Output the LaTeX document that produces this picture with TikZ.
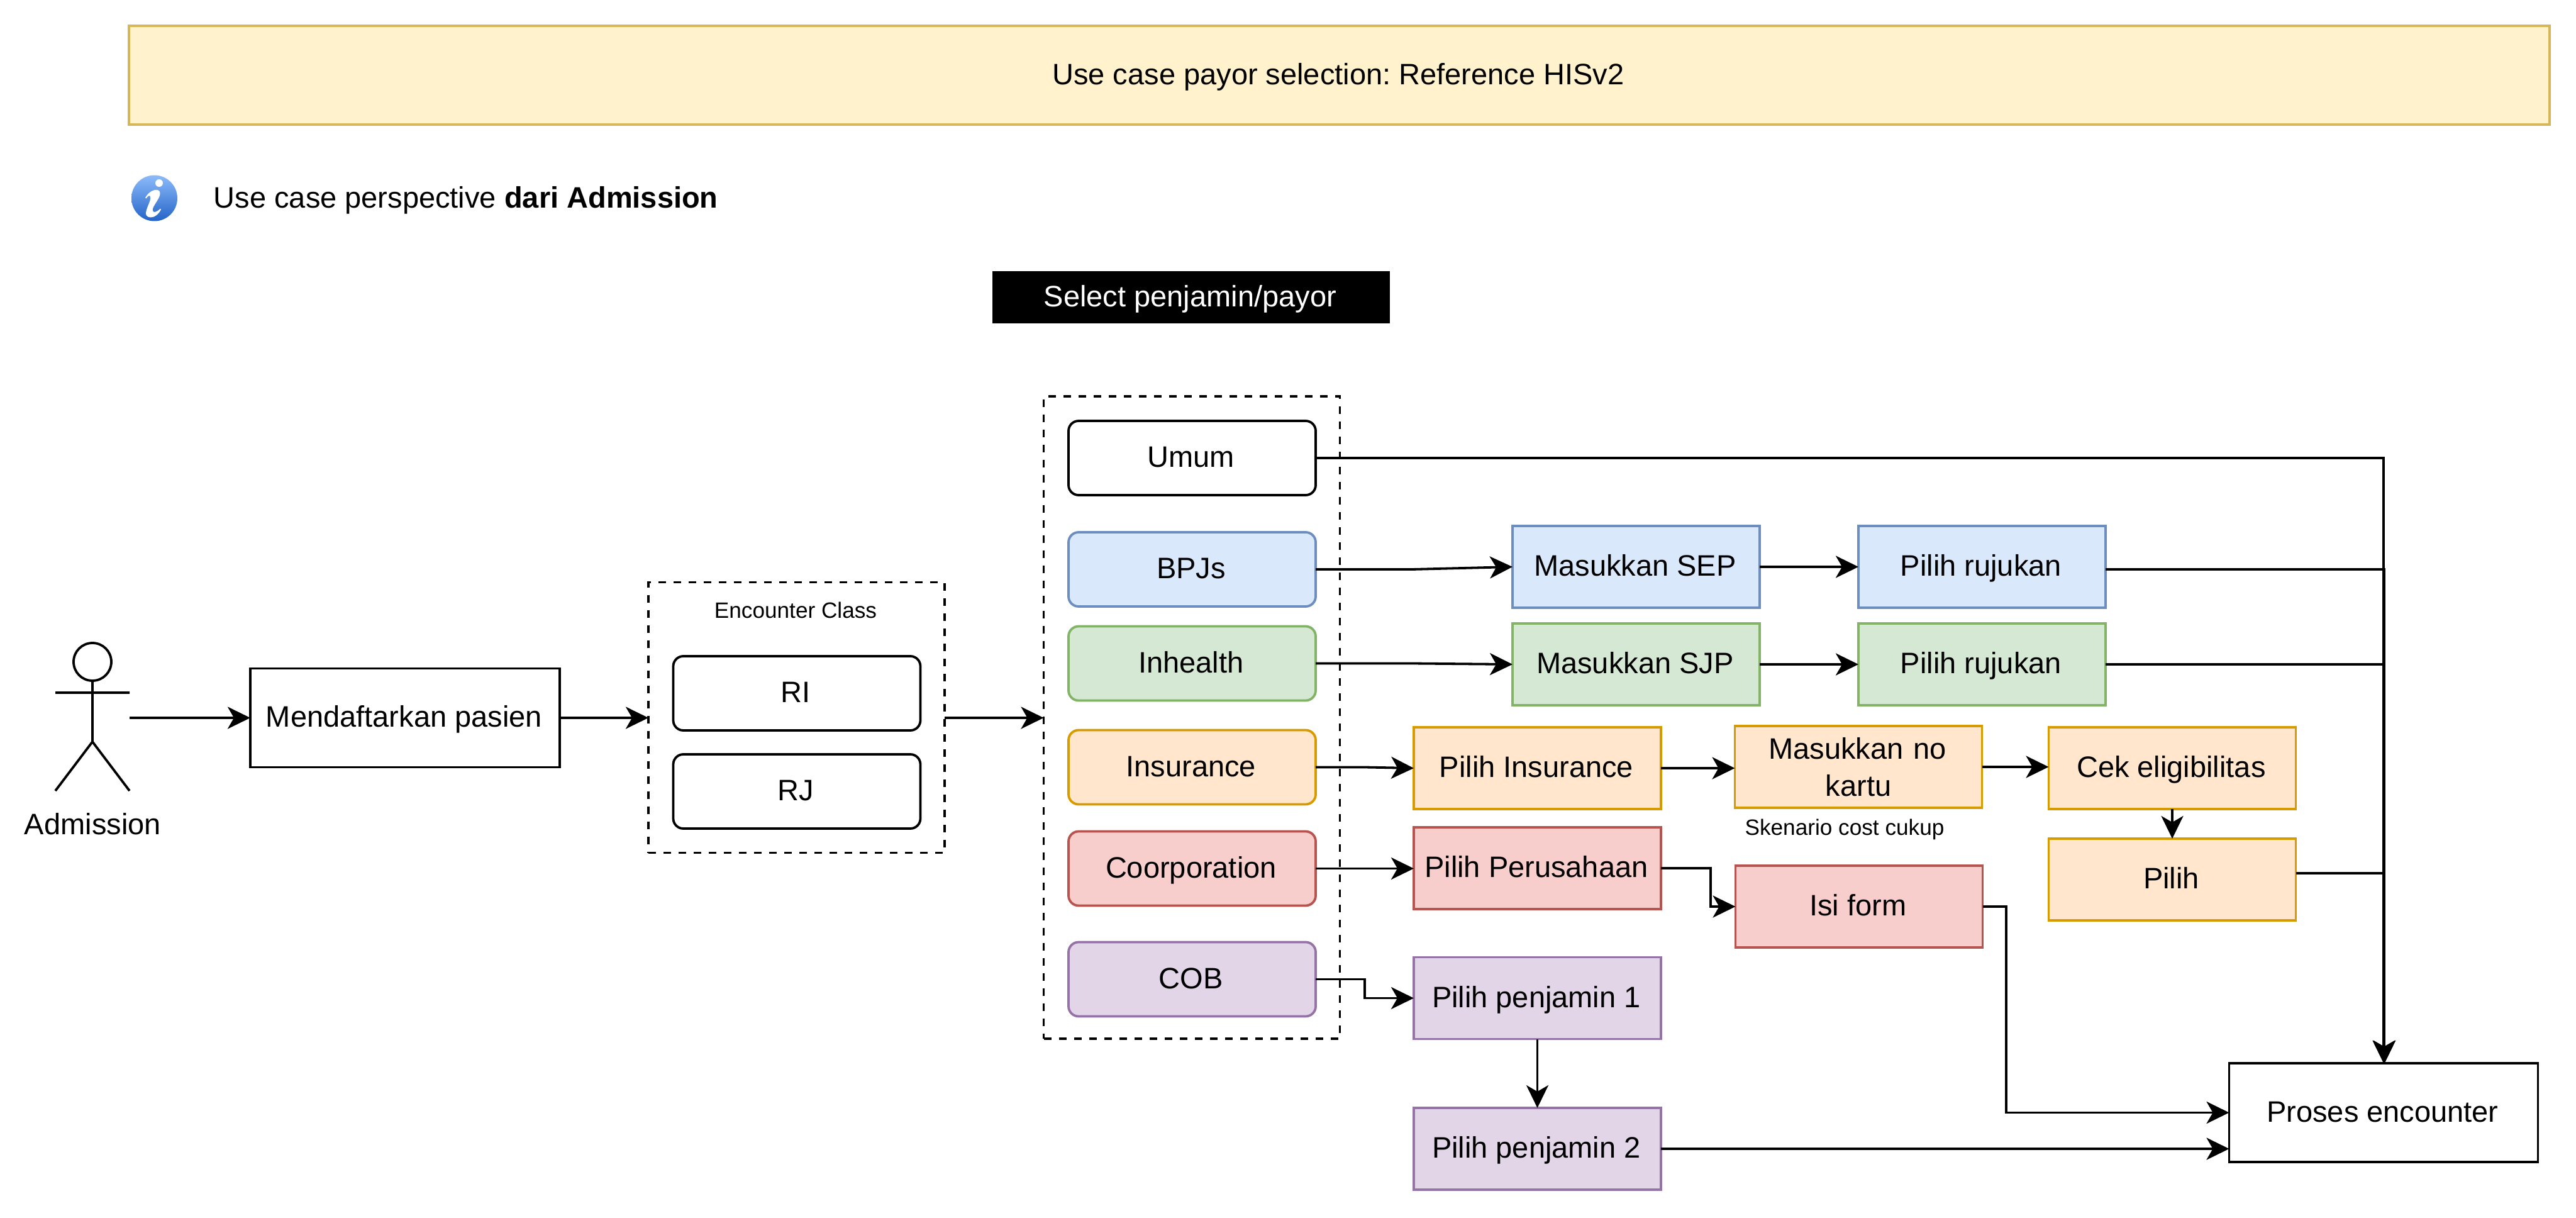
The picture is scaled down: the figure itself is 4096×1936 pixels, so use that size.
\documentclass[tikz,border=0pt]{standalone}
\usepackage{fontspec}
\setmainfont{Liberation Sans}
\usetikzlibrary{arrows.meta,calc,shadings}
\definecolor{bannerf}{HTML}{FFF2CC}\definecolor{bannerd}{HTML}{D6B656}
\definecolor{bluef}{HTML}{DAE8FC}\definecolor{blued}{HTML}{6C8EBF}
\definecolor{greenf}{HTML}{D5E8D4}\definecolor{greend}{HTML}{82B366}
\definecolor{orangef}{HTML}{FFE6CC}\definecolor{oranged}{HTML}{D79B00}
\definecolor{redf}{HTML}{F8CECC}\definecolor{redd}{HTML}{B85450}
\definecolor{purplef}{HTML}{E1D5E7}\definecolor{purpled}{HTML}{9673A6}
\definecolor{icontop}{HTML}{8CBBFA}\definecolor{iconbot}{HTML}{2464C8}
\frenchspacing
\tikzset{
  x=0.5pt,y=-0.5pt,
  base/.style={inner sep=0pt,outer sep=0pt,line width=1.9pt,align=center,
    font=\fontsize{23.5}{29.5}\selectfont,text height=19.7pt,text depth=5pt,
    execute at begin node={\kern-1.6pt}},
  pay/.style={base,draw,rounded corners=8pt,minimum width=196.5pt,minimum height=59pt},
  stepbox/.style={base,draw,minimum width=196.5pt,minimum height=65pt},
  bl/.style={fill=bluef,draw=blued},
  gr/.style={fill=greenf,draw=greend},
  or/.style={fill=orangef,draw=oranged},
  re/.style={fill=redf,draw=redd},
  pu/.style={fill=purplef,draw=purpled},
  frame/.style={line width=1.9pt,dash pattern=on 6pt off 6pt},
  small/.style={inner sep=0pt,font=\fontsize{17.6}{22}\selectfont},
  arr/.style={line width=1.9pt,-{Stealth[length=18pt,width=17.5pt,inset=5pt]}},
}
\begin{document}
\begin{tikzpicture}
\useasboundingbox (0,0) rectangle (4096,1936);
\fill[white] (0,0) rectangle (4096,1936);
% banner
\node[base,draw=bannerd,fill=bannerf,minimum width=1924.5pt,minimum height=78.5pt] (banner) at (2129.5,119.5) {Use case payor selection: Reference HISv2};
% info icon
\shade[top color=icontop,bottom color=iconbot] (245.5,315) circle [radius=36.5];
\fill[white] (253,291) circle [radius=6];
\fill[white] (231,314.3) .. controls (236,306) and (241,303.3) .. (246,302) .. controls (251,301) and (255,303) .. (254.5,308) .. controls (254,316) and (243,327) .. (242.7,333.3) .. controls (242.5,339) and (248,338) .. (255,331.7) -- (256,333) .. controls (252,341) and (245,346) .. (239,345.5) .. controls (233,345) and (231,341) .. (232.3,336.7) .. controls (233.5,329) and (239.5,320) .. (239.3,314) .. controls (239,309) and (235,311) .. (232.5,315.5) -- cycle;
\node[base,anchor=west] (persp) at (343,316) {Use case perspective \textbf{dari Admission}};
% select label
\node[base,fill=black,text=white,minimum width=316pt,minimum height=41.5pt] (sel) at (1894,472.5) {Select penjamin/payor};
% actor
\draw[line width=1.9pt] (147,1052) circle [radius=30];
\draw[line width=1.9pt] (147,1082) -- (147,1179) (88,1101) -- (206,1101) (147,1179) -- (88,1257) (147,1179) -- (206,1257);
\coordinate (actor) at (206,1141);
\node[base] (adm) at (149,1312) {Admission};
% first boxes
\node[base,draw,minimum width=246pt,minimum height=78.5pt] (mend) at (644,1141) {Mendaftarkan pasien};
\node[draw,frame,minimum width=235.5pt,minimum height=215pt,inner sep=0pt,outer sep=0pt] (enc) at (1266.5,1140.5) {};
\node[small] (enclab) at (1265,970) {Encounter Class};
\node[pay] (ri) at (1267,1102) {RI};
\node[pay] (rj) at (1267,1258) {RJ};
\node[draw,frame,minimum width=235.5pt,minimum height=510.5pt,inner sep=0pt,outer sep=0pt] (payb) at (1895,1140.5) {};
% payors
\node[pay] (umum) at (1895.5,728) {Umum};
\node[pay,bl] (bpjs) at (1895.5,905) {BPJs};
\node[pay,gr] (inh) at (1895.5,1054.5) {Inhealth};
\node[pay,or] (insu) at (1895.5,1219.5) {Insurance};
\node[pay,re] (coor) at (1895.5,1380.5) {Coorporation};
\node[pay,pu] (cob) at (1895.5,1556.5) {COB};
% steps
\node[stepbox,bl] (sep) at (2601.5,901) {Masukkan SEP};
\node[stepbox,bl] (r1) at (3151.5,901) {Pilih rujukan};
\node[stepbox,gr] (sjp) at (2601.5,1056) {Masukkan SJP};
\node[stepbox,gr] (r2) at (3151.5,1056) {Pilih rujukan};
\node[stepbox,or] (pins) at (2444.5,1221) {Pilih Insurance};
\node[stepbox,or,text width=180pt,text height={},text depth={},execute at begin node={}] (kartu) at (2955,1219) {Masukkan no\\kartu};
\node[stepbox,or] (cek) at (3454,1221) {Cek eligibilitas};
\node[stepbox,or] (pilih) at (3454,1398) {Pilih};
\node[small] (sken) at (2933,1318) {Skenario cost cukup};
\node[stepbox,re] (pper) at (2444.5,1380) {Pilih Perusahaan};
\node[stepbox,re] (isi) at (2956,1441) {Isi form};
\node[stepbox,pu] (pj1) at (2444.5,1586.5) {Pilih penjamin 1};
\node[stepbox,pu] (pj2) at (2444.5,1826) {Pilih penjamin 2};
\node[base,draw,minimum width=245.5pt,minimum height=78.5pt] (proses) at (3790,1768.5) {Proses encounter};
% connectors
\draw[arr] (actor) -- (mend.west);
\draw[arr] (mend.east) -- (enc.west |- mend.east);
\draw[arr] (enc.east |- mend.east) -- (payb.west |- mend.east);
\draw[arr] (umum.east) -| (proses.north);
\coordinate (b1) at (2245,905);
\draw[arr] (bpjs.east) -- (b1) -- (sep.west);
\coordinate (b2) at (2245,1054.5);
\draw[arr] (inh.east) -- (b2) -- (sjp.west);
\coordinate (b3) at (2170,1219.5);
\draw[arr] (insu.east) -- (b3) -- (pins.west);
\draw[arr] (coor.east) -- (pper.west |- coor.east);
\draw[arr] (cob.east) -- (2170,1556.5) -- (2170,1586.5) -- (pj1.west);
\draw[arr] (sep.east) -- (r1.west);
\draw[arr] (sjp.east) -- (r2.west);
\draw[arr] (pins.east) -- (kartu.west |- pins.east);
\draw[arr] (kartu.east) -- (cek.west |- kartu.east);
\draw[arr] (cek.south) -- (pilih.north);
\draw[arr] (pj1.south) -- (pj2.north);
\draw[arr] (pper.east) -- (2720,1380) -- (2720,1441) -- (isi.west);
\draw[arr] (isi.east) -- (3190,1441) -- (3190,1768.5) -- (proses.west);
\draw[arr] (pj2.east) -- (pj2.east -| proses.west);
\draw[arr] ($(r1.east)+(0,4)$) -| ($(proses.north)+(1.5,0)$);
\draw[arr] (r2.east) -| ($(proses.north)+(1.5,0)$);
\draw[arr] ($(pilih.east)+(0,-10)$) -| ($(proses.north)+(1,0)$);
\end{tikzpicture}
\end{document}
